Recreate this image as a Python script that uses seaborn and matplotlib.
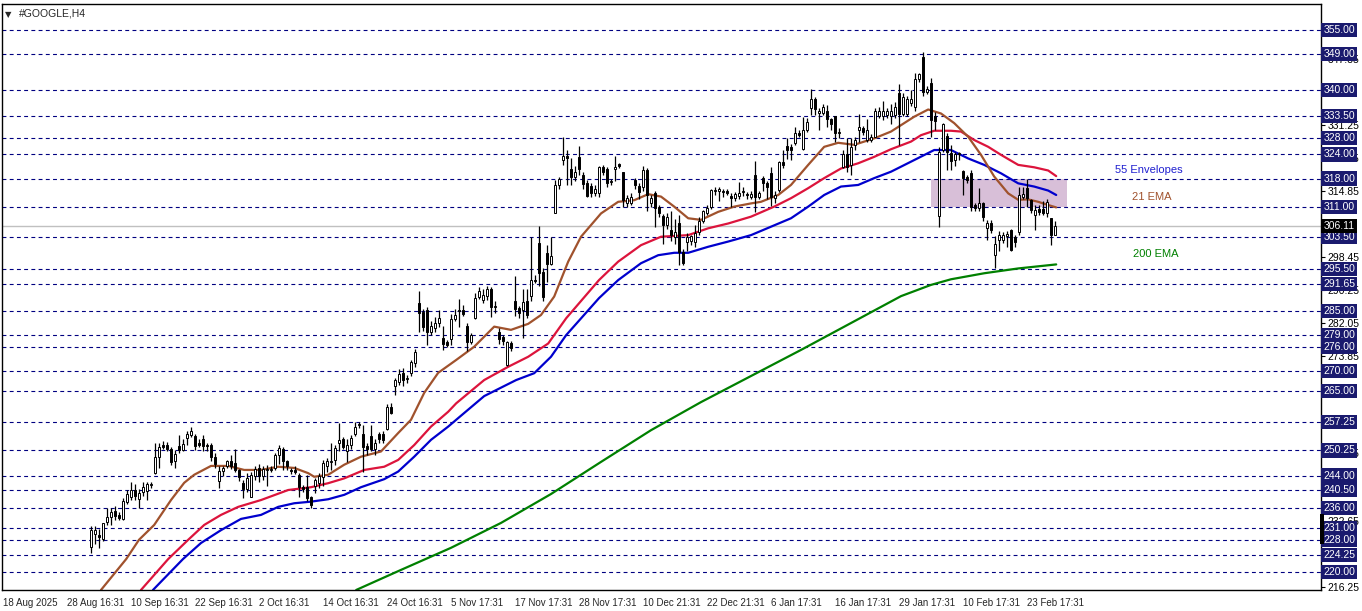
import matplotlib
matplotlib.use("Agg")
import matplotlib.pyplot as plt
import seaborn as sns
from matplotlib.patches import Rectangle

sns.set_style("white")
plt.rcParams['font.family'] = ['Liberation Sans', 'DejaVu Sans']

# --- candles (H4 bars), first visible bar index ---
first_bar = 22
opens = [226.1, 229.5, 229.2, 228.3, 232.5, 233.8, 235.2, 234.2, 233.3, 237.5,
         238.7, 240.4, 238.1, 240.0, 240.2, 241.6, 244.6, 248.7, 251.5, 251.5,
         250.5, 247.7, 251.3, 250.3, 253.3, 254.1, 253.8, 252.2, 253.0, 251.5,
         251.6, 248.7, 242.7, 245.1, 246.5, 247.7, 247.1, 245.4, 242.1, 240.6,
         238.7, 244.0, 246.0, 244.0, 245.3, 245.5, 245.8, 249.1, 250.5, 247.6,
         245.5, 245.5, 244.2, 241.2, 241.2, 238.7, 241.4, 242.1, 243.7, 246.5,
         247.3, 247.9, 252.0, 253.1, 250.0, 251.6, 254.3, 256.5, 254.4, 251.4,
         253.8, 250.5, 254.3, 254.3, 255.5, 261.2, 266.3, 267.4, 269.6, 268.0,
         269.6, 272.1, 286.9, 284.8, 285.2, 279.8, 280.7, 281.9, 278.2, 277.3,
         277.9, 282.9, 284.9, 285.3, 281.3, 277.3, 283.2, 288.4, 287.8, 288.8,
         290.5, 286.1, 279.8, 278.5, 271.5, 277.1, 287.6, 285.7, 285.2, 287.5,
         288.7, 292.7, 301.9, 294.8, 299.5, 296.7, 309.5, 316.4, 322.5, 323.6,
         320.3, 318.5, 323.3, 318.9, 317.0, 316.1, 314.5, 314.5, 320.8, 320.3,
         317.2, 320.3, 321.5, 319.7, 312.0, 312.0, 317.6, 316.1, 316.0, 320.0,
         312.0, 314.3, 310.8, 308.7, 306.4, 305.3, 303.4, 307.0, 299.8, 302.3,
         302.5, 302.3, 304.8, 307.3, 309.5, 310.8, 315.0, 314.8, 314.8, 315.0,
         313.6, 313.1, 313.6, 314.6, 314.1, 313.3, 318.9, 313.5, 318.1, 316.9,
         319.5, 313.1, 315.1, 322.2, 326.1, 325.9, 326.8, 329.3, 325.3, 330.1,
         335.5, 337.7, 334.4, 334.4, 334.8, 332.8, 333.6, 329.3, 320.9, 324.1,
         321.4, 326.4, 330.1, 330.6, 327.6, 327.6, 328.4, 333.6, 333.6, 333.9,
         333.6, 333.8, 339.4, 334.2, 334.1, 336.9, 335.9, 342.7, 348.4, 339.6,
         341.9, 333.6, 308.6, 325.1, 328.6, 324.4, 322.7, 324.0, 319.9, 318.4,
         319.5, 311.4, 310.6, 311.8, 305.6, 307.0, 298.9, 302.7, 302.7, 303.6,
         305.2, 303.5, 304.8, 313.5, 315.6, 312.6, 308.9, 310.5, 310.5, 309.3,
         308.1, 303.9]
highs = [231.4, 231.5, 230.8, 232.3, 236.0, 236.0, 236.5, 234.8, 238.5, 240.5,
         242.5, 242.0, 240.6, 242.3, 242.5, 242.5, 252.0, 252.2, 252.6, 252.3,
         251.0, 250.3, 254.0, 253.0, 255.0, 256.0, 254.4, 253.0, 254.0, 252.0,
         252.0, 249.5, 246.5, 246.5, 248.0, 249.0, 250.5, 245.7, 243.0, 244.6,
         245.0, 246.5, 247.0, 246.5, 246.7, 246.3, 249.6, 251.7, 251.0, 248.0,
         246.0, 246.5, 244.6, 241.7, 244.2, 239.0, 243.5, 244.6, 248.0, 248.3,
         252.1, 251.5, 257.0, 253.7, 253.0, 254.0, 257.3, 257.3, 256.7, 252.0,
         256.7, 253.0, 254.8, 255.0, 261.8, 262.0, 268.2, 270.5, 270.7, 269.0,
         272.8, 275.6, 290.0, 285.5, 285.9, 282.5, 283.5, 285.2, 281.3, 277.7,
         284.3, 285.5, 287.9, 286.5, 282.0, 279.5, 289.5, 291.0, 290.5, 291.3,
         291.0, 287.5, 280.8, 279.0, 277.5, 277.5, 293.7, 286.3, 290.6, 290.5,
         303.4, 294.0, 306.2, 295.6, 301.4, 303.4, 317.6, 318.5, 328.3, 325.0,
         323.2, 321.0, 326.0, 319.6, 317.6, 317.0, 316.3, 321.1, 321.4, 320.9,
         318.0, 323.6, 321.8, 319.7, 314.0, 314.5, 318.2, 317.0, 321.0, 320.7,
         314.0, 315.0, 311.5, 309.2, 309.5, 310.0, 307.8, 309.0, 300.5, 304.5,
         304.0, 306.4, 308.3, 310.1, 311.3, 315.5, 316.0, 315.8, 315.5, 315.5,
         314.5, 314.6, 317.2, 316.0, 314.6, 315.0, 322.4, 315.0, 318.7, 317.3,
         320.8, 315.0, 322.3, 325.0, 328.0, 326.7, 330.8, 330.0, 333.4, 333.0,
         340.2, 338.4, 335.5, 336.5, 336.2, 333.0, 333.6, 330.5, 325.0, 328.0,
         328.0, 328.3, 334.2, 331.0, 332.8, 329.0, 335.5, 335.7, 337.2, 335.5,
         336.5, 337.0, 341.5, 339.4, 338.6, 340.0, 344.2, 344.4, 349.4, 341.0,
         343.0, 334.5, 325.9, 331.8, 329.3, 326.4, 324.5, 324.6, 320.1, 318.8,
         320.0, 312.0, 315.6, 312.2, 307.6, 307.6, 303.6, 305.0, 304.6, 305.0,
         305.5, 304.0, 316.0, 316.0, 317.8, 313.0, 311.5, 311.5, 312.5, 313.0,
         308.1, 307.5]
lows = [224.7, 227.0, 226.0, 227.6, 231.7, 231.7, 233.0, 233.0, 233.0, 237.0,
        238.0, 238.0, 235.8, 239.0, 238.0, 241.0, 244.5, 246.0, 250.5, 250.0,
        246.7, 246.0, 249.5, 250.0, 251.5, 253.5, 250.3, 251.0, 250.0, 250.0,
        247.7, 246.0, 240.8, 244.0, 246.0, 245.7, 244.9, 242.7, 238.4, 240.0,
        238.6, 243.0, 242.5, 243.0, 241.5, 245.0, 245.5, 247.0, 245.4, 245.5,
        244.5, 244.5, 238.7, 240.0, 237.7, 235.8, 239.6, 241.0, 241.5, 245.0,
        245.4, 246.6, 250.0, 250.7, 247.5, 250.5, 253.8, 255.8, 245.0, 249.0,
        250.0, 249.0, 252.0, 252.0, 255.3, 259.3, 264.1, 266.5, 266.3, 267.0,
        268.7, 271.0, 279.8, 280.0, 276.5, 279.0, 279.8, 281.0, 275.3, 276.0,
        276.5, 282.5, 280.9, 283.8, 275.0, 276.8, 282.9, 287.9, 287.0, 287.8,
        283.5, 284.5, 276.7, 276.5, 271.2, 275.0, 283.7, 283.2, 278.2, 283.3,
        287.5, 292.0, 291.2, 287.5, 292.2, 296.5, 309.4, 315.3, 321.4, 316.4,
        316.4, 317.5, 319.0, 315.5, 313.4, 313.5, 313.7, 313.4, 319.0, 316.0,
        316.3, 317.5, 320.5, 310.8, 311.0, 311.5, 315.5, 313.0, 315.0, 309.8,
        311.0, 306.0, 308.5, 301.8, 305.5, 302.5, 301.7, 296.5, 296.5, 300.0,
        301.5, 301.0, 304.0, 307.0, 309.0, 310.5, 314.0, 312.5, 313.5, 314.0,
        311.0, 312.5, 312.9, 313.6, 313.0, 313.0, 309.7, 313.0, 315.0, 312.8,
        311.2, 312.0, 314.7, 320.6, 322.8, 322.6, 326.3, 328.3, 325.0, 329.5,
        333.9, 333.9, 330.1, 333.9, 330.8, 330.0, 327.2, 328.0, 320.7, 319.6,
        318.8, 325.0, 327.2, 328.8, 327.2, 327.0, 328.3, 333.0, 332.5, 333.0,
        331.5, 333.0, 326.4, 333.6, 333.5, 336.0, 334.9, 342.0, 338.5, 339.0,
        328.4, 330.0, 306.0, 324.5, 320.1, 320.1, 321.0, 322.6, 313.9, 317.0,
        309.8, 310.0, 309.8, 307.3, 302.6, 304.5, 295.6, 300.0, 302.0, 301.0,
        300.0, 301.0, 304.0, 313.0, 310.9, 309.3, 305.2, 309.0, 308.8, 308.5,
        301.4, 303.9]
closes = [230.4, 230.5, 228.8, 232.1, 233.8, 234.8, 234.0, 233.5, 237.7, 239.4,
          240.4, 239.0, 239.7, 241.2, 241.8, 241.8, 248.7, 251.2, 251.0, 250.7,
          247.5, 249.3, 250.3, 251.8, 254.4, 255.0, 251.3, 251.6, 251.3, 251.3,
          248.7, 246.9, 245.1, 246.0, 247.6, 246.5, 245.4, 243.7, 240.6, 243.4,
          244.2, 245.6, 244.0, 245.6, 245.6, 245.7, 249.1, 250.8, 247.6, 246.4,
          245.2, 245.0, 241.2, 240.6, 238.3, 236.7, 242.8, 243.9, 247.1, 247.6,
          247.6, 250.9, 252.9, 251.0, 251.7, 253.4, 256.2, 256.9, 251.0, 250.5,
          250.5, 252.2, 253.0, 252.8, 261.2, 259.7, 267.8, 269.3, 267.8, 268.3,
          272.3, 274.7, 284.6, 281.1, 279.8, 281.3, 282.1, 283.2, 276.8, 276.5,
          282.9, 283.9, 285.3, 284.3, 277.3, 279.1, 288.2, 290.1, 289.0, 290.6,
          286.1, 286.2, 277.9, 277.5, 277.2, 275.7, 285.4, 284.6, 287.3, 284.0,
          292.7, 292.4, 294.5, 288.6, 296.7, 298.7, 316.4, 317.8, 323.6, 323.0,
          318.5, 319.7, 320.3, 316.6, 313.6, 314.5, 315.3, 320.9, 319.7, 316.8,
          317.3, 320.8, 321.2, 312.6, 313.1, 313.4, 316.4, 314.7, 320.0, 313.9,
          313.1, 310.6, 309.5, 306.4, 308.5, 303.9, 304.8, 299.8, 296.9, 303.4,
          303.6, 304.5, 307.3, 309.8, 310.6, 315.1, 315.1, 315.3, 314.6, 314.5,
          313.1, 314.1, 314.3, 314.8, 313.8, 314.1, 313.5, 314.3, 316.8, 315.9,
          313.5, 313.9, 322.0, 321.4, 325.1, 325.1, 329.3, 328.8, 330.1, 332.2,
          337.7, 335.2, 334.7, 335.8, 332.8, 331.6, 329.3, 329.7, 324.1, 320.9,
          325.9, 327.7, 330.9, 329.6, 330.1, 328.3, 334.7, 334.7, 334.7, 334.7,
          334.7, 335.9, 334.2, 338.2, 337.7, 337.7, 342.7, 344.0, 339.6, 340.2,
          332.6, 332.4, 324.7, 331.5, 324.7, 322.4, 324.0, 324.2, 318.1, 317.6,
          311.0, 310.6, 311.8, 308.3, 307.0, 305.2, 301.7, 303.9, 303.9, 304.2,
          300.2, 302.3, 313.9, 314.2, 313.1, 310.2, 310.2, 309.7, 309.3, 312.2,
          303.9, 306.1]

# --- indicator lines (bar index, price) ---
ema21_bars = [24.5, 30.8, 34.0, 37.8, 42.0, 45.3, 47.8, 52.0, 56.3, 60.3, 64.5, 68.8,
              72.8, 76.3, 77.8, 81.3, 85.3, 89.5, 94.5, 98.8, 102.0, 105.3, 108.8,
              113.3, 117.8, 122.8, 127.0, 131.3, 134.5, 137.8, 141.3, 144.5, 149.5,
              153.8, 157.8, 161.3, 164.5, 167.8, 171.3, 174.5, 178.8, 182.8, 187.0,
              189.5, 193.8, 197.0, 201.3, 205.3, 208.8, 212.8, 217.8, 222.0, 227.8,
              231.3, 234.5, 237.8, 241.3, 244.5, 247.8, 251.3, 253.8, 256.3, 258.8,
              261.3, 263.3]
ema21_vals = [215.5, 223.2, 228.0, 231.7, 237.9, 242.2, 244.2, 246.4, 246.4, 245.4,
              245.4, 246.2, 245.9, 244.6, 243.7, 244.2, 246.7, 248.7, 250.0, 254.6,
              257.9, 264.6, 269.6, 272.8, 276.1, 281.1, 280.3, 281.8, 284.0, 288.6,
              297.3, 303.5, 309.3, 312.2, 312.6, 314.1, 313.5, 311.0, 308.1, 307.7,
              309.7, 311.0, 311.8, 312.2, 313.9, 316.4, 321.4, 325.9, 326.9, 326.4,
              328.0, 329.7, 333.4, 335.2, 334.2, 331.8, 328.4, 323.9, 318.5, 314.3,
              312.7, 312.8, 312.2, 311.4, 310.8]
env_up_bars = [34.5, 41.3, 46.3, 50.3, 54.5, 58.8, 64.5, 71.3, 77.0, 81.3, 85.3, 90.3,
               95.3, 98.8, 102.8, 107.0, 111.3, 113.3, 120.3, 126.3, 131.3, 136.3,
               140.8, 149.0, 153.8, 159.5, 164.5, 171.3, 176.3, 181.3, 187.0, 192.8,
               197.0, 201.3, 205.3, 209.5, 213.8, 217.8, 222.0, 227.0, 229.5, 232.8,
               237.0, 239.5, 242.8, 246.3, 249.5, 253.8, 257.8, 261.3, 263.3]
env_up_vals = [215.5, 223.2, 228.0, 231.7, 234.2, 236.2, 237.9, 240.4, 241.1, 242.1,
               243.3, 245.4, 246.2, 247.9, 251.6, 256.2, 259.9, 262.0, 267.8, 271.1,
               273.6, 276.9, 283.2, 292.7, 297.3, 301.4, 303.5, 303.9, 305.6, 306.8,
               308.5, 311.0, 313.1, 315.6, 318.1, 320.5, 321.8, 323.4, 325.3, 327.2,
               328.8, 329.9, 329.9, 329.7, 327.6, 325.9, 323.9, 321.4, 320.8, 320.0,
               318.6]
env_dn_bars = [37.5, 45.0, 49.5, 54.5, 59.5, 64.5, 68.8, 72.8, 77.0, 81.3, 85.3, 89.5,
               95.3, 98.8, 102.8, 107.0, 111.3, 113.3, 120.3, 128.3, 132.8, 137.0,
               140.8, 149.0, 153.8, 159.5, 163.8, 167.8, 171.3, 176.3, 181.3, 187.0,
               197.0, 201.3, 205.3, 209.5, 213.8, 217.8, 222.0, 227.0, 232.8, 237.0,
               241.3, 245.3, 249.5, 253.8, 257.8, 261.3, 263.3]
env_dn_vals = [215.5, 223.2, 227.2, 230.4, 233.2, 234.2, 236.2, 237.1, 237.5, 238.1,
               239.2, 241.1, 243.1, 245.0, 248.7, 252.9, 256.2, 257.9, 263.8, 267.8,
               269.5, 273.6, 279.0, 288.2, 292.7, 296.9, 298.9, 299.5, 299.5, 301.0,
               302.3, 303.9, 308.1, 311.0, 313.9, 316.0, 316.4, 318.1, 319.7, 322.2,
               325.1, 325.1, 323.0, 321.4, 319.3, 316.8, 316.0, 315.0, 313.9]
ema200_bars = [88.3, 99.5, 112.0, 124.5, 137.0, 149.5, 162.0, 174.5, 187.0, 199.5,
               212.0, 224.5, 232.0, 237.0, 245.3, 253.8, 263.3]
ema200_vals = [215.5, 220.5, 226.0, 232.2, 239.4, 247.4, 255.3, 262.3, 268.8, 275.3,
               282.0, 288.7, 291.5, 292.9, 294.4, 295.6, 296.6]

# --- drawn objects ---
level_lines = [355.00, 349.00, 340.00, 333.50, 328.00, 324.00, 318.00, 311.00,
               303.50, 295.50, 291.65, 285.00, 279.00, 276.00, 270.00, 265.00,
               257.25, 250.25, 244.00, 240.50, 236.00, 231.00, 228.00, 224.25, 220.00]
axis_ticks = [347.85, 331.25, 323.05, 314.85, 298.45, 290.25, 282.05, 273.85,
              249.65, 232.65, 216.25]
last_price = 306.11
zone_bars = [232, 266]
zone_prices = [311.0, 318.0]
date_ticks = [0, 16, 32, 48, 64, 80, 96, 112, 128, 144, 160, 176, 192, 208, 224, 240, 256]
date_labels = ["18 Aug 2025", "28 Aug 16:31", "10 Sep 16:31", "22 Sep 16:31",
               "2 Oct 16:31", "14 Oct 16:31", "24 Oct 16:31", "5 Nov 17:31",
               "17 Nov 17:31", "28 Nov 17:31", "10 Dec 21:31", "22 Dec 21:31",
               "6 Jan 17:31", "16 Jan 17:31", "29 Jan 17:31", "10 Feb 17:31",
               "23 Feb 17:31"]

W, H = 1362, 611
fig = plt.figure(figsize=(W / 100, H / 100), dpi=100)
ax = fig.add_axes([2 / W, 21 / H, 1319 / W, 586 / H])
ax.set_xlim(-0.25, 329.5)
ax.set_ylim(215.49, 361.48)

NAVY = "#1a1a6e"
FS = 7
FSY = 7.5

# highlight zone
ax.add_patch(Rectangle((zone_bars[0], zone_prices[0]), zone_bars[1] - zone_bars[0],
                       zone_prices[1] - zone_prices[0], facecolor="#d8bfd8",
                       edgecolor="none", zorder=0.5))

# horizontal levels
for lv in level_lines:
    ax.axhline(lv, color="#000080", lw=0.8, ls=(0, (3.5, 3)), zorder=1)
ax.axhline(last_price, color="#c0c0c0", lw=1, zorder=1)

# moving averages
sns.lineplot(x=ema200_bars, y=ema200_vals, color="#008000", lw=1.6, ax=ax, zorder=2)
sns.lineplot(x=env_dn_bars, y=env_dn_vals, color="#0000cd", lw=1.6, ax=ax, zorder=2)
sns.lineplot(x=env_up_bars, y=env_up_vals, color="#dc143c", lw=1.6, ax=ax, zorder=2)
sns.lineplot(x=ema21_bars, y=ema21_vals, color="#a0522d", lw=1.6, ax=ax, zorder=2)

# candles
xs = list(range(first_bar, first_bar + len(closes)))
ax.vlines(xs, lows, highs, color="black", lw=0.9, zorder=3)
bottoms = [min(o, c) for o, c in zip(opens, closes)]
heights = [max(abs(c - o), 0.25) for o, c in zip(opens, closes)]
fills = ["white" if c >= o else "black" for o, c in zip(opens, closes)]
ax.bar(xs, heights, bottom=bottoms, width=0.55, color=fills, edgecolor="black",
       linewidth=0.7, zorder=4)

# indicator captions
ax.text(278, 320.1, "55 Envelopes", color="#2020d0", fontsize=8, va="center")
ax.text(282.2, 313.4, "21 EMA", color="#a0522d", fontsize=8, va="center")
ax.text(282.5, 299.2, "200 EMA", color="#008000", fontsize=8, va="center")

# title
ax.text(0.0022, 0.99, "\u25bc", transform=ax.transAxes, fontsize=6, va="top",
        ha="left", family="DejaVu Sans")
ax.text(0.0125, 0.993, "#GOOGLE,H4", transform=ax.transAxes, fontsize=FS + 0.5,
        va="top", ha="left")

# axes styling
for s in ax.spines.values():
    s.set_color("black")
    s.set_linewidth(1)
ax.yaxis.tick_right()
ax.set_yticks(axis_ticks)
ax.set_yticklabels([f"{t:.2f}" for t in axis_ticks])
ax.tick_params(axis="y", direction="out", length=3, width=0.8, pad=1.5,
               labelsize=FSY, colors="black")
ax.set_xticks(date_ticks)
ax.set_xticklabels(date_labels, ha="left")
ax.tick_params(axis="x", direction="out", length=4, width=0.8, pad=2, labelsize=FS)
ax.set_xlabel("")
ax.set_ylabel("")

# level price boxes on the axis
for lv in level_lines:
    ax.text(1.0018, lv, f"{lv:.2f}", transform=ax.get_yaxis_transform(), color="white",
            fontsize=FSY, va="center", ha="left", clip_on=False, zorder=6,
            bbox=dict(boxstyle="square,pad=0.2", facecolor=NAVY, edgecolor="none"))
ax.text(1.0018, last_price, f"{last_price:.2f}", transform=ax.get_yaxis_transform(),
        color="white", fontsize=FSY, va="center", ha="left", clip_on=False, zorder=6,
        bbox=dict(boxstyle="square,pad=0.2", facecolor="black", edgecolor="none"))
ax.add_patch(Rectangle((329.3, 227.0), 1.0, 7.5, facecolor="black", edgecolor="none",
                       clip_on=False, zorder=7))

fig.savefig("out.png", dpi=100)
